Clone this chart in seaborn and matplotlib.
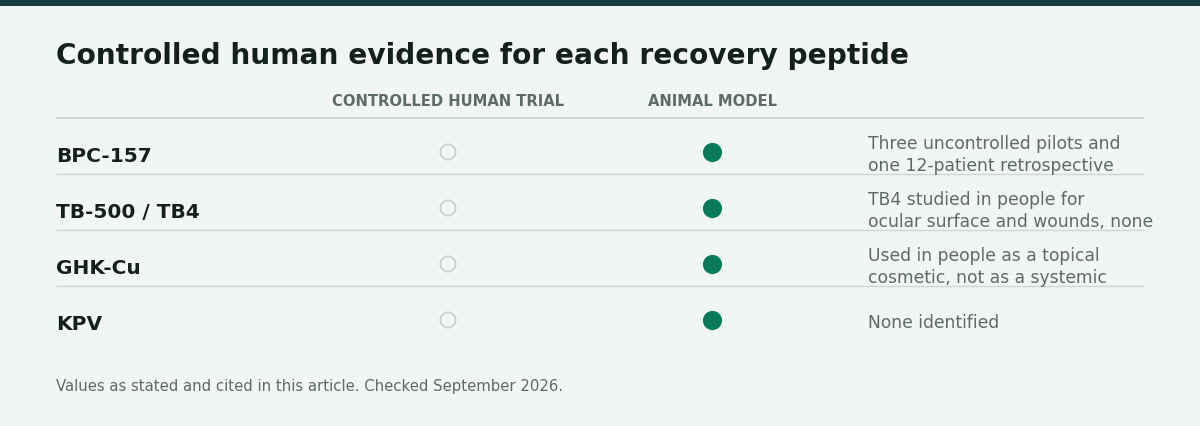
import matplotlib
matplotlib.use("Agg")
import matplotlib.pyplot as plt
import seaborn as sns
import pandas as pd

# ---- data ----
peptides = ["BPC-157", "TB-500 / TB4", "GHK-Cu", "KPV"]
controlled_human_trial = [False, False, False, False]
animal_model = [True, True, True, True]
notes = [
    "Three uncontrolled pilots and\none 12-patient retrospective",
    "TB4 studied in people for\nocular surface and wounds, none",
    "Used in people as a topical\ncosmetic, not as a systemic",
    "None identified",
]
column_labels = ["CONTROLLED HUMAN TRIAL", "ANIMAL MODEL"]
title = "Controlled human evidence for each recovery peptide"
footer = "Values as stated and cited in this article. Checked September 2026."

# ---- style ----
BG = "#f1f5f4"
TOPBAR = "#133d3f"
DARK = "#13201d"
GREY = "#5d6b67"
RULE = "#cfd6d4"
GREEN = "#08795a"
OPEN_EDGE = "#cdd0cf"

sns.set_theme(style="white")
plt.rcParams["font.family"] = ["DejaVu Sans"]

W, H = 1200, 426
fig = plt.figure(figsize=(W / 100, H / 100), dpi=100, facecolor=BG)
ax = fig.add_axes([0, 0, 1, 1])
ax.set_facecolor(BG)

# layout
row_y0, row_h = 152, 56
col_x = [448, 712]
left, right = 56, 1144
note_x = 868

rows = []
for i, p in enumerate(peptides):
    y = row_y0 + i * row_h
    rows.append({"peptide": p, "x": col_x[0], "y": y, "present": controlled_human_trial[i]})
    rows.append({"peptide": p, "x": col_x[1], "y": y, "present": animal_model[i]})
df = pd.DataFrame(rows)

filled = df[df["present"]]
empty = df[~df["present"]]
sns.scatterplot(data=filled, x="x", y="y", ax=ax, s=190, color=GREEN, edgecolor=GREEN, linewidth=0, legend=False, zorder=3)
sns.scatterplot(data=empty, x="x", y="y", ax=ax, s=120, facecolor="none", edgecolor=OPEN_EDGE, linewidth=1.3, legend=False, zorder=3)
ax.set_xlim(0, W)
ax.set_ylim(H, 0)
ax.axis("off")

# top bar
ax.axhspan(0, 6, color=TOPBAR, lw=0)

ax.text(left, 56, title, fontsize=20.2, fontweight="bold", color=DARK, va="center", ha="left")

for cx, lab in zip(col_x, column_labels):
    ax.text(cx, 101, lab, fontsize=10.6, fontweight="bold", color=GREY, ha="center", va="center")
ax.plot([left, right], [118, 118], color=RULE, lw=1.5, solid_capstyle="butt")

for i, p in enumerate(peptides):
    y = row_y0 + i * row_h
    ax.text(left, y + 4, p, fontsize=14.5, fontweight="bold", color=DARK, ha="left", va="center")
    ax.text(note_x, y + 3, notes[i], fontsize=12.3, color=GREY, ha="left", va="center", linespacing=1.22)
    if i < len(peptides) - 1:
        ax.plot([left, right], [y + 22, y + 22], color=RULE, lw=1, solid_capstyle="butt")

ax.text(left, 386, footer, fontsize=10.7, color=GREY, ha="left", va="center")

fig.savefig("out.png", dpi=100, facecolor=BG)
